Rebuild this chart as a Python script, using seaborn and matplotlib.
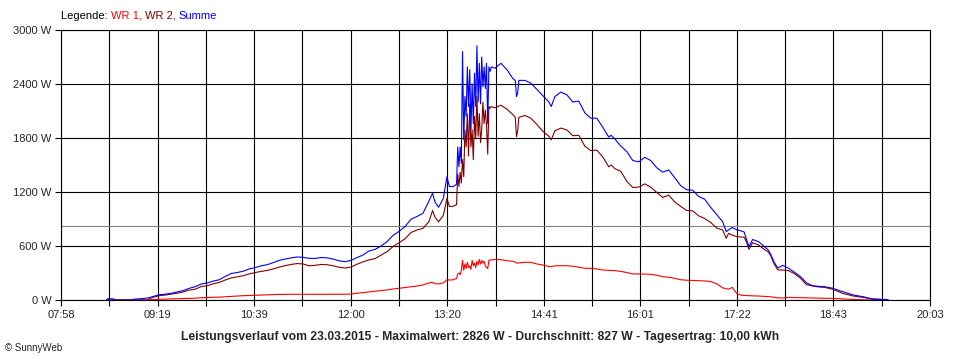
import numpy as np
import pandas as pd
import matplotlib
matplotlib.use("Agg")
import matplotlib.pyplot as plt
import seaborn as sns

sns.set_style("white")
plt.rcParams['font.family'] = ['Liberation Sans', 'DejaVu Sans']

# Readings (time of day, W) for WR 1, WR 2 and their sum
times = [
    "08:36", "08:37", "08:42", "08:43", "08:57", "08:58", "09:05", "09:10", "09:12", "09:15",
    "09:20", "09:25", "09:30", "09:35", "09:40", "09:45", "09:50", "09:55", "10:00", "10:05",
    "10:10", "10:15", "10:20", "10:25", "10:30", "10:35", "10:40", "10:45", "10:50", "10:55",
    "11:00", "11:05", "11:10", "11:15", "11:20", "11:25", "11:30", "11:35", "11:40", "11:45",
    "11:50", "11:55", "12:00", "12:05", "12:10", "12:15", "12:20", "12:25", "12:30", "12:35",
    "12:40", "12:45", "12:50", "12:55", "13:00", "13:05", "13:08", "13:10", "13:13", "13:17",
    "13:20", "13:22", "13:25", "13:28",
    "13:29", "13:30", "13:31", "13:32", "13:33", "13:34", "13:35", "13:36", "13:37", "13:38",
    "13:39", "13:40", "13:41", "13:42", "13:43", "13:44", "13:45", "13:46", "13:47", "13:48",
    "13:49", "13:50", "13:51", "13:52", "13:53", "13:54", "13:55", "13:56",
    "13:57", "14:00", "14:05", "14:10", "14:15", "14:17", "14:18", "14:19", "14:20", "14:25",
    "14:30", "14:35", "14:40", "14:45", "14:47", "14:50", "14:55", "15:00", "15:05", "15:10",
    "15:15", "15:20", "15:25", "15:30", "15:35", "15:37", "15:40", "15:45", "15:50", "15:55",
    "16:00", "16:05", "16:10", "16:15", "16:20", "16:25", "16:30", "16:35", "16:40", "16:45",
    "16:50", "16:55", "17:00", "17:05", "17:10", "17:13", "17:15", "17:18", "17:22", "17:25",
    "17:28", "17:30", "17:32", "17:35", "17:40", "17:45", "17:48", "17:50", "17:53", "17:56",
    "18:00", "18:05", "18:10", "18:15", "18:20", "18:25", "18:30", "18:35", "18:42", "18:50",
    "18:59", "19:07", "19:15", "19:27", "19:28",
]

summe = [
    0, 15, 12, 0, 0, 8, 15, 22, 28, 40,
    58, 65, 75, 90, 105, 130, 148, 178, 190, 210,
    225, 262, 295, 305, 320, 345, 360, 380, 392, 415,
    440, 455, 468, 478, 474, 463, 462, 472, 468, 455,
    435, 426, 440, 472, 500, 545, 562, 600, 648, 718,
    762, 815, 898, 928, 963, 1100, 1185, 1090, 1030, 1130,
    1370, 1262, 1260, 1285,
    1700, 1480, 1700, 1520, 2760, 1780, 2260, 2040, 2590, 2150,
    2560, 1890, 2400, 1960, 2520, 2150, 2826, 2200, 2630, 2180,
    2700, 2370, 2590, 2350, 2630, 1960, 2590, 2540,
    2590, 2575, 2630, 2560, 2460, 2440, 2260, 2300, 2440, 2440,
    2410, 2340, 2270, 2200, 2150, 2260, 2310, 2280, 2200, 2210,
    2080, 2020, 2020, 1920, 1810, 1830, 1790, 1710, 1650, 1550,
    1535, 1585, 1550, 1470, 1420, 1445, 1360, 1270, 1225, 1220,
    1150, 1120, 1030, 950, 870, 760, 780, 805, 778, 770,
    755, 670, 595, 672, 648, 590, 556, 510, 420, 355,
    385, 352, 308, 259, 190, 158, 152, 148, 130, 93,
    56, 37, 11, 5, 0,
]

wr2 = [
    0, 0, 0, 0, 0, 0, 0, 0, 15, 32,
    48, 55, 65, 75, 90, 110, 120, 150, 158, 180,
    195, 222, 245, 258, 270, 290, 305, 318, 328, 345,
    365, 382, 395, 405, 400, 380, 385, 395, 392, 380,
    364, 355, 366, 398, 424, 446, 460, 498, 537, 594,
    636, 680, 750, 778, 796, 872, 995, 920, 870, 940,
    1130, 1040, 1040, 1060,
    1400, 1260, 1420, 1300, 1560, 1370, 1890, 1700, 2070, 1600,
    2180, 1700, 1890, 1560, 2040, 1800, 2260, 1820, 2070, 1750,
    1890, 2200, 1960, 2110, 1950, 1620, 2150, 2130,
    2150, 2135, 2165, 2120, 2060, 2030, 1815, 1880, 2030, 2050,
    2020, 1950, 1875, 1820, 1780, 1880, 1910, 1890, 1825, 1830,
    1710, 1660, 1665, 1590, 1480, 1500, 1460, 1430, 1320, 1250,
    1255, 1290, 1255, 1195, 1140, 1165, 1090, 1040, 995, 990,
    935, 905, 862, 800, 778, 685, 741, 720, 704, 700,
    698, 640, 563, 637, 611, 560, 535, 495, 400, 335,
    333, 326, 292, 241, 170, 156, 145, 141, 119, 74,
    44, 30, 11, 3, 0,
]

wr1 = [
    0, 0, 0, 0, 0, 0, 0, 0, 3, 5,
    8, 10, 12, 15, 16, 18, 20, 25, 28, 30,
    32, 36, 40, 45, 48, 50, 52, 55, 58, 60,
    62, 63, 63, 64, 64, 63, 63, 63, 64, 64,
    64, 64, 66, 76, 82, 90, 98, 105, 112, 122,
    130, 138, 146, 155, 167, 190, 196, 182, 178, 190,
    225, 222, 224, 240,
    290, 300, 280, 330, 440, 330, 400, 350, 420, 360,
    380, 340, 440, 380, 410, 360, 430, 390, 450, 400,
    440, 410, 430, 380, 360, 350, 440, 445,
    445, 450, 448, 437, 430, 420, 410, 410, 412, 419,
    418, 400, 389, 372, 370, 380, 381, 381, 375, 365,
    352, 352, 345, 333, 330, 330, 326, 318, 305, 290,
    289, 288, 285, 275, 259, 252, 241, 225, 220, 217,
    215, 212, 205, 180, 135, 125, 120, 140, 70, 55,
    50, 50, 48, 46, 44, 40, 38, 36, 30, 24,
    22, 30, 26, 26, 24, 22, 20, 19, 18, 12,
    6, 3, 0, 0, 0,
]

average = 827
x_labels = ["07:58", "09:19", "10:39", "12:00", "13:20", "14:41", "16:01", "17:22", "18:43", "20:03"]
y_values = [0, 600, 1200, 1800, 2400, 3000]

def to_min(s):
    h, m = s.split(":")
    return int(h) * 60 + int(m)

df = pd.DataFrame({"minute": [to_min(t) for t in times],
                   "WR 1": wr1, "WR 2": wr2, "Summe": summe})

red, darkred, blue = "#ff0000", "#800000", "#0000ff"

fig = plt.figure(figsize=(9.6, 3.6), dpi=100)
ax = fig.add_axes([61 / 960, 60 / 360, 869 / 960, 270 / 360])

ax.axhline(average, color="#808080", lw=0.8, zorder=1)
for col, c in [("WR 1", red), ("WR 2", darkred), ("Summe", blue)]:
    sns.lineplot(data=df, x="minute", y=col, color=c, lw=0.8, ax=ax,
                 errorbar=None, legend=False, zorder=3)

xmin, xmax = to_min(x_labels[0]), to_min(x_labels[-1])
ax.set_xlim(xmin, xmax)
ax.set_ylim(0, 3000)
ax.set_xticks(np.linspace(xmin, xmax, len(x_labels)))
ax.set_xticks(np.linspace(xmin, xmax, 2 * len(x_labels) - 1), minor=True)
ax.set_xticklabels(x_labels)
ax.set_yticks(y_values)
ax.set_yticklabels([f"{v} W" for v in y_values])
ax.grid(True, which="both", color="black", lw=0.8)
ax.set_axisbelow(True)
ax.tick_params(which="both", direction="out", length=4, width=0.8, color="black",
               labelsize=8, pad=3, bottom=True, left=True)
for s in ax.spines.values():
    s.set_color("black")
    s.set_linewidth(0.8)
ax.set_xlabel("")
ax.set_ylabel("")

# legend line at the top
t = fig.text(61 / 960, 1 - 16 / 360, "Legende: ", fontsize=8, va="center", color="black")
for s, c in [("WR 1, ", red), ("WR 2, ", darkred), ("Summe", blue)]:
    t = ax.annotate(s, xy=(1, 0), xycoords=t, va="bottom", ha="left",
                    fontsize=8, color=c, annotation_clip=False)

fig.text(0.5, 1 - 337 / 360,
         "Leistungsverlauf vom 23.03.2015 - Maximalwert: 2826 W - Durchschnitt: 827 W - Tagesertrag: 10,00 kWh",
         ha="center", va="center", fontsize=8.7, fontweight="bold")
fig.text(5 / 960, 1 - 348 / 360, "© SunnyWeb", fontsize=7, va="center")

fig.savefig("out.png", dpi=100)
